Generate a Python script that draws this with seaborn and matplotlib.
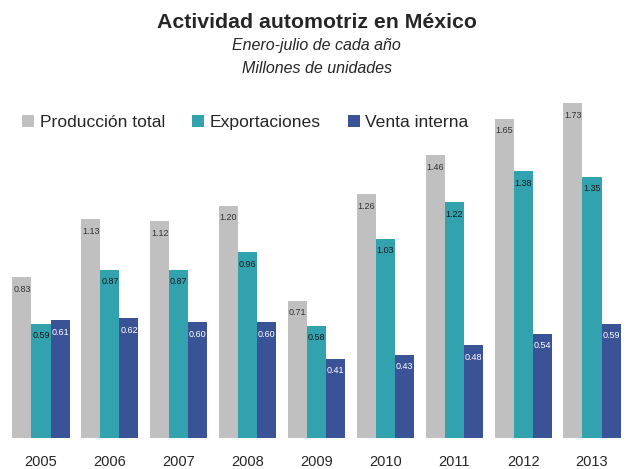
import matplotlib
matplotlib.use("Agg")
import matplotlib.pyplot as plt
import seaborn as sns
import pandas as pd

years = ["2005", "2006", "2007", "2008", "2009", "2010", "2011", "2012", "2013"]
series = ["Producción total", "Exportaciones", "Venta interna"]
produccion = [0.83, 1.13, 1.12, 1.20, 0.71, 1.26, 1.46, 1.65, 1.73]
exportaciones = [0.59, 0.87, 0.87, 0.96, 0.58, 1.03, 1.22, 1.38, 1.35]
venta = [0.61, 0.62, 0.60, 0.60, 0.41, 0.43, 0.48, 0.54, 0.59]
colors = ["#C0C0C0", "#33A2AF", "#3A5397"]

rows = []
for name, vals in zip(series, [produccion, exportaciones, venta]):
    for y, v in zip(years, vals):
        rows.append({"Año": y, "Serie": name, "Valor": v})
df = pd.DataFrame(rows)

sns.set_theme(style="white")
plt.rcParams["font.family"] = ["Liberation Sans", "DejaVu Sans"]

fig = plt.figure(figsize=(6.33, 4.69), dpi=100)
ax = fig.add_axes([0.0104, 0.066, 0.9792, 0.743])
sns.barplot(data=df, x="Año", y="Valor", hue="Serie", palette=colors,
            width=0.83, gap=0, ax=ax, errorbar=None, saturation=1,
            edgecolor="none", linewidth=0)
ax.set_ylim(0, 1.8)
ax.set_xlim(-0.5, 8.5)
for s in ax.spines.values():
    s.set_visible(False)
ax.set_yticks([])
ax.set_xlabel("")
ax.set_ylabel("")
ax.tick_params(axis="x", length=0, labelsize=10.5, pad=12)

txtcolors = ["#333333", "#1a1a1a", "white"]
for cont, tc in zip(ax.containers, txtcolors):
    labels = [f"{b.get_height():.2f}" for b in cont]
    ax.bar_label(cont, labels=labels, label_type="edge", padding=-12,
                 fontsize=6.5, color=tc)

leg = ax.legend(loc="center left", bbox_to_anchor=(0.025, 0.905), ncol=3,
                frameon=False, fontsize=12.6, handlelength=0.7, handleheight=0.7,
                handletextpad=0.3, columnspacing=1.55, borderaxespad=0, borderpad=0)

fig.text(0.5, 0.952, "Actividad automotriz en México", ha="center", va="center",
         fontsize=15.3, fontweight="bold")
fig.text(0.5, 0.903, "Enero-julio de cada año", ha="center", va="center",
         fontsize=11.5, style="italic")
fig.text(0.5, 0.853, "Millones de unidades", ha="center", va="center",
         fontsize=11.5, style="italic")

fig.savefig("out.png", dpi=100)
